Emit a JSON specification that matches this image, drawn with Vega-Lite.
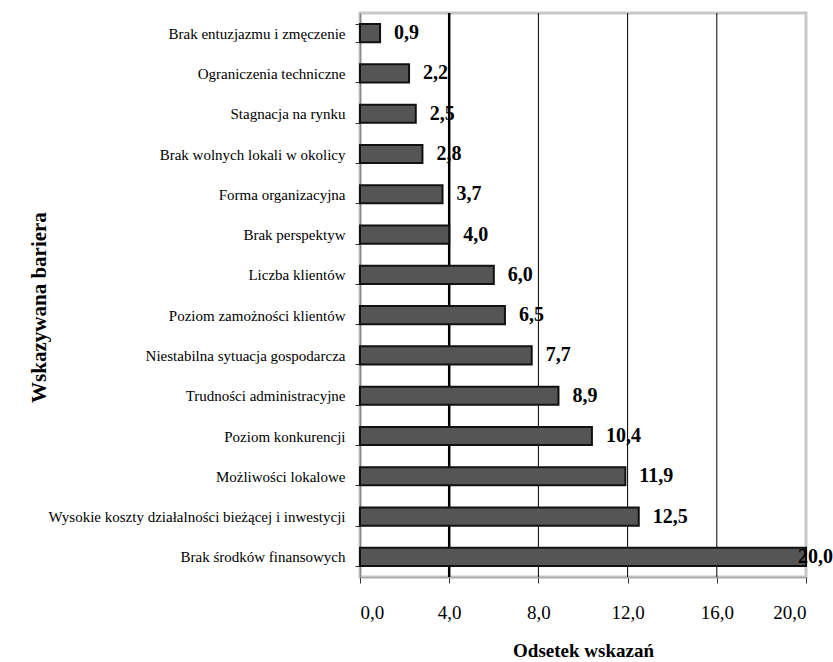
{
  "$schema": "https://vega.github.io/schema/vega-lite/v6.json",
  "width": 446,
  "height": 564,
  "autosize": "none",
  "padding": {"left": 360, "top": 13, "right": 27, "bottom": 85},
  "config": {
    "locale": {"number": {"decimal": ",", "thousands": " ", "grouping": [3], "currency": ["", ""]}},
    "font": "Liberation Serif",
    "view": {"stroke": "#c8c8c8", "strokeWidth": 3}
  },
  "data": {
    "values": [
      {"bariera": "Brak entuzjazmu i zmęczenie", "odsetek": 0.9},
      {"bariera": "Ograniczenia techniczne", "odsetek": 2.2},
      {"bariera": "Stagnacja na rynku", "odsetek": 2.5},
      {"bariera": "Brak wolnych lokali w okolicy", "odsetek": 2.8},
      {"bariera": "Forma organizacyjna", "odsetek": 3.7},
      {"bariera": "Brak perspektyw", "odsetek": 4.0},
      {"bariera": "Liczba klientów", "odsetek": 6.0},
      {"bariera": "Poziom zamożności klientów", "odsetek": 6.5},
      {"bariera": "Niestabilna sytuacja gospodarcza", "odsetek": 7.7},
      {"bariera": "Trudności administracyjne", "odsetek": 8.9},
      {"bariera": "Poziom konkurencji", "odsetek": 10.4},
      {"bariera": "Możliwości lokalowe", "odsetek": 11.9},
      {"bariera": "Wysokie koszty działalności bieżącej i inwestycji", "odsetek": 12.5},
      {"bariera": "Brak środków finansowych", "odsetek": 20.0}
    ]
  },
  "encoding": {
    "y": {
      "field": "bariera",
      "type": "nominal",
      "sort": null,
      "scale": {"paddingInner": 0.55, "paddingOuter": 0.275},
      "axis": {
        "title": "Wskazywana bariera",
        "titleFont": "Liberation Serif",
        "titleFontSize": 21,
        "titleFontWeight": "bold",
        "titleColor": "black",
        "titleX": -311,
        "titleY": 294,
        "titleAngle": -90,
        "labelFont": "Liberation Serif",
        "labelFontSize": 15,
        "labelColor": "black",
        "labelPadding": 10,
        "labelLimit": 400,
        "tickBand": "extent",
        "tickColor": "#333",
        "tickSize": 5,
        "domainColor": "#888",
        "domainWidth": 1.5
      }
    },
    "x": {
      "field": "odsetek",
      "type": "quantitative",
      "scale": {"domain": [0, 20], "nice": false},
      "axis": {
        "title": "Odsetek wskazań",
        "titleFont": "Liberation Serif",
        "titleFontSize": 19,
        "titleFontWeight": "bold",
        "titleColor": "black",
        "titlePadding": 19,
        "values": [0, 4, 8, 12, 16, 20],
        "format": ".1f",
        "labelFont": "Liberation Serif",
        "labelFontSize": 19,
        "labelColor": "black",
        "labelPadding": 20,
        "tickColor": "#333",
        "tickSize": 6,
        "domainColor": "#aaa",
        "domainWidth": 1.5,
        "grid": false
      }
    }
  },
  "layer": [
    {
      "data": {"values": [{"g": 4, "w": 2.5}, {"g": 8, "w": 1}, {"g": 12, "w": 1}, {"g": 16, "w": 1}]},
      "mark": {"type": "rule", "color": "black"},
      "encoding": {
        "x": {"field": "g", "type": "quantitative"},
        "y": null,
        "strokeWidth": {"field": "w", "type": "quantitative", "scale": null, "legend": null}
      }
    },
    {
      "mark": {"type": "bar", "fill": "#555555", "stroke": "#111111", "strokeWidth": 2}
    },
    {
      "transform": [{"filter": "datum.odsetek < 20"}],
      "mark": {"type": "text", "align": "left", "dx": 14, "fontSize": 20, "fontWeight": "bold", "font": "Liberation Serif", "color": "black"},
      "encoding": {"text": {"field": "odsetek", "type": "quantitative", "format": ".1f"}}
    },
    {
      "transform": [{"filter": "datum.odsetek >= 20"}],
      "mark": {"type": "text", "align": "right", "dx": 27, "fontSize": 20, "fontWeight": "bold", "font": "Liberation Serif", "color": "black"},
      "encoding": {"text": {"field": "odsetek", "type": "quantitative", "format": ".1f"}}
    }
  ]
}
